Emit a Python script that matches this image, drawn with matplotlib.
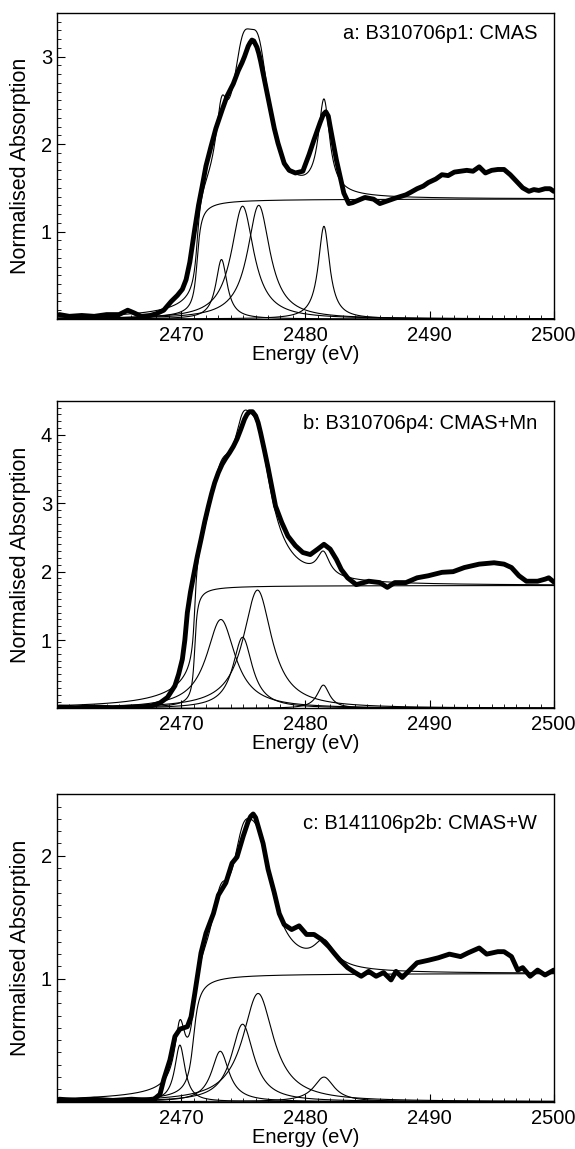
import numpy as np
import matplotlib
matplotlib.use("Agg")
import matplotlib.pyplot as plt
from matplotlib.ticker import MultipleLocator

plt.rcParams['font.family'] = ['Liberation Sans', 'DejaVu Sans']

energy_a = [2460.2, 2461, 2462, 2463, 2464, 2465, 2465.7, 2466.2, 2466.8, 2467.5, 2468,
            2468.6, 2469.2, 2469.7, 2470.1, 2470.4, 2470.7, 2471.1, 2471.4, 2471.7, 2472.0,
            2472.4, 2472.8, 2473.3, 2473.7, 2474.2, 2474.6, 2474.9, 2475.1, 2475.4, 2475.55,
            2475.7, 2475.85, 2476.1, 2476.25, 2476.4, 2476.6, 2476.9, 2477.2, 2477.5, 2477.8,
            2478.3, 2478.7, 2479.2, 2479.8, 2480.3, 2480.7, 2481.2, 2481.45, 2481.65, 2481.85,
            2482.0, 2482.5, 2483.1, 2483.5, 2483.8, 2484.3, 2484.8, 2485.5, 2486.0, 2486.6,
            2487.2, 2488.1, 2488.5, 2489.0, 2489.5, 2489.9, 2490.5, 2491.0, 2491.5, 2492.0,
            2492.5, 2493.0, 2493.5, 2494.0, 2494.5, 2495.0, 2495.5, 2496.0, 2496.5, 2496.9,
            2497.5, 2498.0, 2498.4, 2498.8, 2499.3, 2499.7, 2500.0]
absorb_a = [0.05, 0.03, 0.04, 0.03, 0.05, 0.05, 0.10, 0.07, 0.03, 0.04, 0.06,
            0.10, 0.20, 0.27, 0.34, 0.45, 0.65, 1.03, 1.30, 1.52, 1.75,
            1.97, 2.18, 2.39, 2.55, 2.69, 2.84, 2.93, 3.00, 3.12, 3.16,
            3.19, 3.18, 3.11, 3.04, 2.95, 2.81, 2.60, 2.39, 2.18, 2.01,
            1.78, 1.70, 1.67, 1.69, 1.88, 2.05, 2.25, 2.34, 2.37, 2.32,
            2.20, 1.82, 1.44, 1.32, 1.33, 1.36, 1.39, 1.37, 1.32, 1.35,
            1.38, 1.42, 1.45, 1.49, 1.52, 1.56, 1.60, 1.65, 1.64, 1.68,
            1.69, 1.70, 1.69, 1.74, 1.67, 1.70, 1.71, 1.71, 1.65, 1.59,
            1.50, 1.46, 1.48, 1.47, 1.49, 1.49, 1.46]

energy_b = [2460.2, 2461.5, 2463, 2464.5, 2466, 2467.5, 2468.3, 2468.9, 2469.5, 2469.8,
            2470.1, 2470.3, 2470.5, 2470.75, 2471.0, 2471.3, 2471.6, 2471.9, 2472.2, 2472.45,
            2472.7, 2473.0, 2473.3, 2473.6, 2473.9, 2474.2, 2474.5, 2474.8, 2475.1, 2475.3,
            2475.5, 2475.75, 2476.0, 2476.2, 2476.4, 2476.7, 2477.0, 2477.3, 2477.6, 2478.1,
            2478.6, 2479.2, 2479.8, 2480.4, 2481.0, 2481.5, 2482.0, 2482.5, 2482.9, 2483.4,
            2484.1, 2485.1, 2486.0, 2486.6, 2487.2, 2488.1, 2489.0, 2489.9, 2491.0, 2491.9,
            2492.8, 2494.0, 2495.2, 2496.0, 2496.6, 2497.2, 2497.8, 2498.7, 2499.3, 2499.6,
            2500.0]
absorb_b = [0.02, 0.01, 0.02, 0.01, 0.02, 0.03, 0.08, 0.16, 0.33, 0.50,
            0.72, 1.00, 1.40, 1.70, 1.94, 2.22, 2.47, 2.73, 2.96, 3.14,
            3.30, 3.45, 3.57, 3.66, 3.74, 3.83, 3.94, 4.08, 4.23, 4.30,
            4.34, 4.34, 4.28, 4.18, 4.03, 3.78, 3.52, 3.24, 2.96, 2.72,
            2.52, 2.38, 2.28, 2.25, 2.33, 2.40, 2.33, 2.18, 2.03, 1.91,
            1.81, 1.86, 1.84, 1.77, 1.84, 1.84, 1.91, 1.94, 1.99, 2.00,
            2.06, 2.11, 2.13, 2.11, 2.06, 1.94, 1.86, 1.86, 1.89, 1.91,
            1.85]

energy_c = [2460.2, 2461.5, 2463, 2464.5, 2466, 2467.7, 2468.3, 2468.6, 2469.1, 2469.5,
            2469.9, 2470.2, 2470.5, 2470.8, 2471.1, 2471.6, 2472.0, 2472.6, 2473.0, 2473.6,
            2474.1, 2474.5, 2475.0, 2475.4, 2475.6, 2475.8, 2476.0, 2476.2, 2476.6, 2477.0,
            2477.5, 2477.9, 2478.3, 2478.9, 2479.5, 2480.1, 2480.7, 2481.3, 2481.9, 2482.3,
            2482.8, 2483.4, 2484.0, 2484.5, 2485.1, 2485.7, 2486.3, 2486.9, 2487.3, 2487.8,
            2488.4, 2489.0, 2489.9, 2490.7, 2491.6, 2492.5, 2493.1, 2494.0, 2494.6, 2495.5,
            2496.0, 2496.6, 2497.1, 2497.5, 2498.1, 2498.7, 2499.3, 2500.0]
absorb_c = [0.02, 0.01, 0.02, 0.01, 0.02, 0.01, 0.06, 0.18, 0.34, 0.53,
            0.59, 0.60, 0.61, 0.69, 0.88, 1.21, 1.37, 1.53, 1.68, 1.78,
            1.94, 1.99, 2.16, 2.28, 2.32, 2.34, 2.31, 2.24, 2.10, 1.89,
            1.70, 1.53, 1.44, 1.40, 1.43, 1.36, 1.36, 1.32, 1.26, 1.21,
            1.15, 1.09, 1.05, 1.02, 1.06, 1.02, 1.05, 0.99, 1.06, 1.01,
            1.07, 1.13, 1.15, 1.17, 1.20, 1.18, 1.21, 1.25, 1.20, 1.22,
            1.22, 1.18, 1.07, 1.09, 1.02, 1.07, 1.03, 1.07]

# ---- fitted components: arctan edge step + peaks (centre, height, fwhm) ----
step_a = (1.375, 2471.3, 0.25)   # height, position, width
centres_a = [2473.25, 2474.95, 2476.25, 2481.5]
heights_a = [0.68, 1.29, 1.30, 1.06]
fwhm_a = [1.1, 2.2, 2.2, 1.1]

step_b = (1.80, 2471.1, 0.17)
centres_b = [2473.2, 2474.95, 2476.15, 2481.45]
heights_b = [1.30, 1.04, 1.73, 0.34]
fwhm_b = [2.8, 1.9, 2.8, 1.2]

step_c = (1.045, 2471.0, 0.35)
centres_c = [2469.9, 2473.15, 2474.95, 2476.2, 2481.5]
heights_c = [0.46, 0.41, 0.63, 0.88, 0.20]
fwhm_c = [1.0, 1.7, 2.2, 3.0, 2.0]

labels = ["a: B310706p1: CMAS", "b: B310706p4: CMAS+Mn", "c: B141106p2b: CMAS+W"]
ymax = [3.5, 4.5, 2.5]
yticks = [[1, 2, 3], [1, 2, 3, 4], [1, 2]]


def lorentz(e, c, h, w):
    hw = w / 2.0
    return h * hw**2 / ((e - c)**2 + hw**2)


def arctan_step(e, h, c, w):
    return h * (0.5 + np.arctan((e - c) / w) / np.pi)


fig = plt.figure(figsize=(5.75, 11.49), dpi=100)
boxes = [[0.099, 0.7224, 0.864, 0.2663],
         [0.099, 0.3835, 0.864, 0.2677],
         [0.099, 0.0412, 0.864, 0.2675]]
text_y = [0.933, 0.927, 0.906]

panels = [(energy_a, absorb_a, step_a, centres_a, heights_a, fwhm_a),
          (energy_b, absorb_b, step_b, centres_b, heights_b, fwhm_b),
          (energy_c, absorb_c, step_c, centres_c, heights_c, fwhm_c)]

e_model = np.linspace(2460, 2500, 1600)

for i, (en, ab, step, cen, hts, fw) in enumerate(panels):
    ax = fig.add_axes(boxes[i])
    st = arctan_step(e_model, *step)
    total = st.copy()
    ax.plot(e_model, st, color='black', lw=0.8)
    for c, h, w in zip(cen, hts, fw):
        pk = lorentz(e_model, c, h, w)
        total += pk
        ax.plot(e_model, pk, color='black', lw=0.8)
    ax.plot(e_model, total, color='black', lw=0.8)
    ax.plot(en, ab, color='black', lw=3.5, solid_joinstyle='round',
            solid_capstyle='round')

    ax.set_xlim(2460, 2500)
    ax.set_ylim(0, ymax[i])
    ax.set_xticks([2470, 2480, 2490, 2500])
    ax.xaxis.set_minor_locator(MultipleLocator(1))
    ax.set_yticks(yticks[i])
    ax.yaxis.set_minor_locator(MultipleLocator(0.1))
    ax.tick_params(which='both', direction='in', top=False, right=False,
                   labelsize=14.5)
    ax.tick_params(which='major', length=6, width=0.8)
    ax.tick_params(which='minor', length=3, width=0.6)
    ax.tick_params(axis='x', pad=5)
    for sp in ax.spines.values():
        sp.set_linewidth(1.0)
    ax.set_xlabel("Energy (eV)", fontsize=14.5, labelpad=0)
    ax.set_ylabel("Normalised Absorption", fontsize=15.5, labelpad=7)
    ax.text(0.967, text_y[i], labels[i], transform=ax.transAxes,
            ha='right', va='center', fontsize=14.5)

fig.savefig("out.png", dpi=100)
